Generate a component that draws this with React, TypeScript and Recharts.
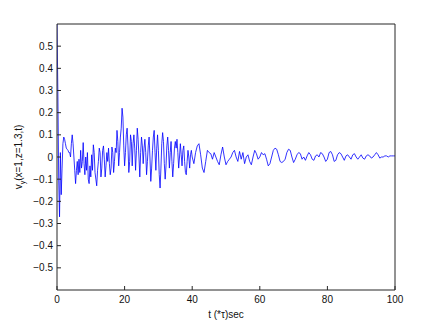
import React from 'react';
import { LineChart, Line, XAxis, YAxis, Label } from 'recharts';

// time step 0.25 from t=0 to t=40
const vyEarly = [
  0.6, 0.3, -0.1, -0.27, 0.02, -0.17, -0.05, 0.06, 0.09, 0.08,
  0.06, 0.04, 0.035, 0.03, 0.02, 0.02, 0.0, 0.06, 0.1, 0.06,
  0.0, -0.06, -0.12, -0.06, -0.02, -0.08, -0.01, -0.07, 0.03, -0.05,
  -0.02, 0.065, -0.03, -0.08, 0.0, -0.06, 0.02, -0.1, -0.12, -0.04,
  -0.09, 0.01, -0.06, 0.055, 0.02, -0.07, -0.1, -0.13, -0.06, -0.02,
  0.04, 0.02, -0.09, -0.05, 0.03, 0.05, -0.01, -0.09, -0.04, 0.02,
  -0.02, 0.04, -0.03, -0.08, -0.05, 0.045, 0.02, -0.07, -0.02, 0.04,
  0.02, 0.12, 0.07, -0.04, 0.02, 0.09, 0.13, 0.22, 0.18, 0.05,
  -0.04, 0.02, 0.1, 0.13, 0.05, -0.07, -0.02, 0.1, 0.07, -0.04,
  0.06, 0.1, 0.04, -0.06, 0.03, 0.13, 0.08, 0.0, -0.09, 0.02,
  0.09, 0.05, -0.03, 0.04, 0.08, 0.02, -0.08, -0.02, 0.05, 0.09,
  0.0, -0.11, -0.05, 0.03, 0.09, 0.12, 0.02, -0.06, 0.04, 0.1,
  0.03, -0.08, -0.14, -0.05, 0.06, 0.11, 0.07, -0.03, -0.1, -0.04,
  0.05, 0.09, 0.03, -0.05, 0.02, 0.07, -0.02, -0.09, -0.03, 0.04,
  0.07, 0.04, 0.08, 0.02, -0.05, 0.0, 0.06, 0.01, -0.04, 0.03,
  0.05, -0.02, -0.07, -0.08, -0.02, 0.03, 0.0, -0.05, 0.01, 0.03,
  0.0,
];

// time step 0.5 from t=40.5 to t=100
const vyLate = [
  -0.03, 0.02, 0.05, 0.06, 0.01, -0.05, -0.07, -0.02, 0.03, 0.02,
  0.015, -0.01, 0.02, 0.0, -0.02, -0.035, 0.01, 0.045, 0.0, -0.035,
  -0.02, -0.01, 0.0, 0.02, 0.03, 0.0, -0.02, 0.025, -0.01, 0.02,
  -0.03, 0.0, 0.01, -0.02, -0.035, 0.0, 0.03, 0.015, -0.01, 0.0,
  0.02, 0.01, 0.015, -0.01, -0.04, -0.03, 0.0, 0.03, 0.04, 0.035,
  0.01, -0.02, -0.025, -0.02, -0.01, 0.02, 0.035, 0.03, 0.0, -0.025,
  -0.01, 0.01, 0.02, 0.015, -0.01, 0.0, -0.015, 0.005, 0.02, 0.01,
  -0.01, -0.015, 0.005, 0.01, 0.0, 0.02, 0.015, 0.0, -0.02, -0.01,
  0.02, 0.025, 0.01, -0.02, -0.015, 0.01, 0.02, 0.015, 0.0, -0.015,
  0.005, 0.01, 0.0, -0.01, 0.01, 0.015, 0.0, -0.01, 0.0, 0.01,
  -0.005, -0.01, 0.005, 0.01, 0.005, -0.005, 0.0, 0.01, 0.02, 0.01,
  -0.005, 0.0, 0.0, 0.005, 0.005, 0.0, 0.005, 0.005, 0.005, 0.005,
];

const xTicks = [0, 20, 40, 60, 80, 100];
const yTicks = [-0.5, -0.4, -0.3, -0.2, -0.1, 0, 0.1, 0.2, 0.3, 0.4, 0.5];

const data = [
  ...vyEarly.map((v, i) => ({ t: i * 0.25, vy: v })),
  ...vyLate.map((v, i) => ({ t: 40.5 + i * 0.5, vy: v })),
];

const FONT = '"Liberation Sans", Arial, sans-serif';
const AXIS = '#262626';
const tickStyle = { fill: '#111', fontSize: 10, fontFamily: FONT };

function fmtY(v: number): string {
  if (v === 0) return '0';
  return v < 0 ? `\u2212${Math.abs(v).toFixed(1)}` : v.toFixed(1);
}

function YLabel({ viewBox }: any) {
  const cy = viewBox ? viewBox.y + viewBox.height / 2 : 157;
  return (
    <text
      x={22}
      y={cy}
      transform={`rotate(-90, 22, ${cy})`}
      textAnchor="middle"
      fontSize={10}
      fontFamily={FONT}
      fill="#111"
    >
      v
      <tspan fontSize={7} dy={3}>y</tspan>
      <tspan dy={-3}>(x=1,z=1.3,t)</tspan>
    </text>
  );
}

export default function App() {
  return (
    <div style={{ position: 'absolute', left: 0, top: 0, width: 436, height: 327, background: '#fff' }}>
      <LineChart
        width={436}
        height={327}
        data={data}
        margin={{ top: 23, right: 40, bottom: 17, left: 7 }}
      >
        <XAxis
          dataKey="t"
          type="number"
          domain={[0, 100]}
          ticks={xTicks}
          tick={tickStyle}
          tickSize={-4}
          tickMargin={10}
          height={20}
          stroke={AXIS}
          allowDataOverflow
        >
          <Label
            value="t (*τ)sec"
            position="insideBottom"
            offset={-8}
            style={{ fontSize: 10, fontFamily: FONT, fill: '#111' }}
          />
        </XAxis>
        <XAxis
          xAxisId="top"
          orientation="top"
          dataKey="t"
          type="number"
          domain={[0, 100]}
          ticks={xTicks}
          tick={false}
          tickSize={-4}
          height={1}
          stroke={AXIS}
        />
        <YAxis
          type="number"
          domain={[-0.6, 0.6]}
          ticks={yTicks}
          tickFormatter={fmtY}
          tick={tickStyle}
          tickSize={-4}
          tickMargin={8}
          width={50}
          stroke={AXIS}
          allowDataOverflow
        >
          <Label content={<YLabel />} />
        </YAxis>
        <YAxis
          yAxisId="right"
          orientation="right"
          type="number"
          domain={[-0.6, 0.6]}
          ticks={yTicks}
          tick={false}
          tickSize={-4}
          width={1}
          stroke={AXIS}
        />
        <Line
          type="linear"
          dataKey="vy"
          stroke="#0000ff"
          strokeWidth={0.8}
          dot={false}
          isAnimationActive={false}
        />
      </LineChart>
    </div>
  );
}
